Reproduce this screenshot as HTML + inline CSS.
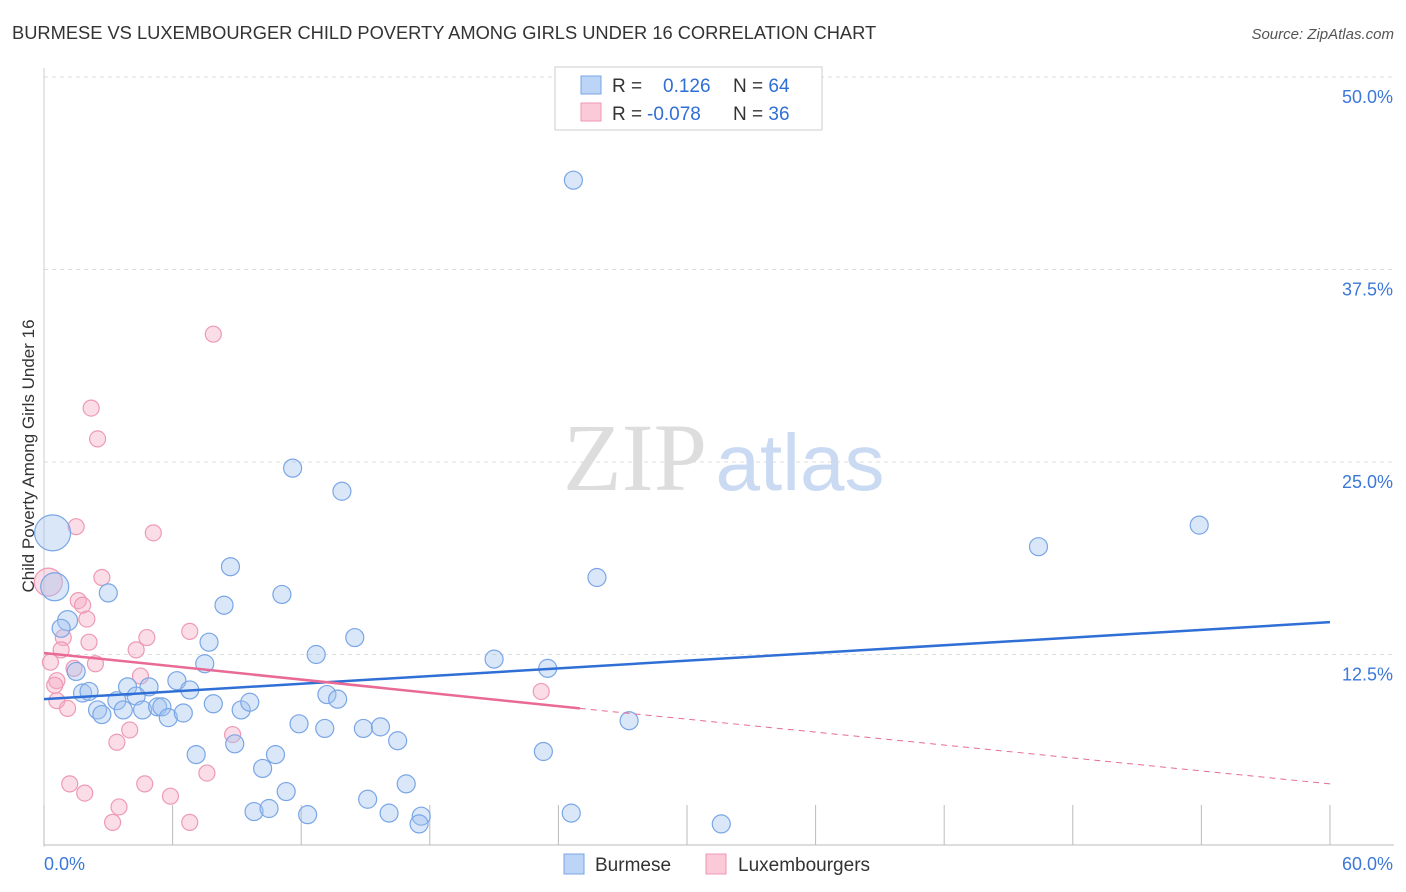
<!DOCTYPE html>
<html><head><meta charset="utf-8"><style>
body{margin:0;background:#fff;font-family:"Liberation Sans",sans-serif;}
svg{display:block}
</style></head><body>
<svg id="chart" width="1406" height="892">
<text x="12" y="39" font-size="18.3" fill="#333">BURMESE VS LUXEMBOURGER CHILD POVERTY AMONG GIRLS UNDER 16 CORRELATION CHART</text>
<text x="1394" y="39" font-size="15" fill="#555" font-style="italic" text-anchor="end">Source: ZipAtlas.com</text>
<text x="34" y="456" font-size="17" fill="#333" text-anchor="middle" transform="rotate(-90 34 456)">Child Poverty Among Girls Under 16</text>
<g id="grid"></g>
<g><text x="635" y="490" font-size="96" fill="#ddd" font-family="Liberation Serif,serif" text-anchor="middle">ZIP</text><text x="800" y="490" font-size="80" fill="#c9daf2" text-anchor="middle">atlas</text></g>
<g id="pts"></g>
<g id="lines"></g>
<g>
<rect x="555" y="67" width="267" height="63" fill="#fff" stroke="#ccc"/>
<rect x="581" y="76" width="20" height="18" fill="#bcd4f5" stroke="#7aa6e6"/>
<rect x="581" y="103" width="20" height="18" fill="#fbcad8" stroke="#ef97b2"/>
<text x="612" y="92" font-size="19" fill="#333">R = <tspan fill="#2f6fd6" x="663">0.126</tspan><tspan x="733" fill="#333">N = </tspan><tspan fill="#2f6fd6">64</tspan></text>
<text x="612" y="120" font-size="19" fill="#333">R = <tspan fill="#2f6fd6" x="647">-0.078</tspan><tspan x="733" fill="#333">N = </tspan><tspan fill="#2f6fd6">36</tspan></text>
</g>
<g>
<rect x="564" y="854" width="20" height="20" fill="#bcd4f5" stroke="#7aa6e6"/>
<text x="595" y="871" font-size="19" fill="#333">Burmese</text>
<rect x="706" y="854" width="20" height="20" fill="#fbcad8" stroke="#ef97b2"/>
<text x="738" y="871" font-size="19" fill="#333">Luxembourgers</text>
</g>
</svg>
<script>
const yTicks=[12.5,25,37.5,50];
const yTickLabels=["12.5%","25.0%","37.5%","50.0%"];
const blueX=[24.7,11.6,13.9,53.9,46.4,25.8,8.7,3.0,11.1,8.4,1.1,0.8,7.7,14.5,12.7,21.0,23.5,7.5,1.5,1.8,2.1,3.9,4.9,6.2,6.8,4.3,3.4,2.5,2.7,3.7,4.6,5.3,5.5,5.8,6.5,7.9,9.2,9.6,13.2,13.7,11.9,13.1,14.9,15.7,16.5,27.3,8.9,7.1,10.8,23.3,10.2,16.9,11.3,15.1,9.8,10.5,12.3,16.1,17.6,17.5,24.6,31.6,0.4,0.5];
const blueY=[43.3,24.6,23.1,20.9,19.5,17.5,18.2,16.5,16.4,15.7,14.7,14.2,13.3,13.6,12.5,12.2,11.6,11.9,11.4,10.0,10.1,10.4,10.4,10.8,10.2,9.8,9.5,8.9,8.6,8.9,8.9,9.1,9.1,8.4,8.7,9.3,8.9,9.4,9.9,9.6,8.0,7.7,7.7,7.8,6.9,8.2,6.7,6.0,6.0,6.2,5.1,4.1,3.6,3.1,2.3,2.5,2.1,2.2,2.0,1.5,2.2,1.5,20.4,16.9];
const blueR=[9,9,9,9,9,9,9,9,9,9,10,9,9,9,9,9,9,9,9,9,9,9,9,9,9,9,9,9,9,9,9,9,9,9,9,9,9,9,9,9,9,9,9,9,9,9,9,9,9,9,9,9,9,9,9,9,9,9,9,9,9,9,18,14];
const pinkX=[7.9,2.2,2.5,1.5,5.1,0.2,2.7,1.6,1.8,2.0,4.8,2.1,0.9,0.8,4.3,2.4,0.3,1.4,4.5,0.6,0.5,6.8,0.6,1.1,4.0,3.4,8.8,7.6,1.2,1.9,4.7,5.9,3.5,3.2,6.8,23.2];
const pinkY=[33.3,28.5,26.5,20.8,20.4,17.2,17.5,16.0,15.7,14.8,13.6,13.3,13.6,12.8,12.8,11.9,12.0,11.6,11.1,10.8,10.5,14.0,9.5,9.0,7.6,6.8,7.3,4.8,4.1,3.5,4.1,3.3,2.6,1.6,1.6,10.1];
const pinkR=[8,8,8,8,8,14,8,8,8,8,8,8,8,8,8,8,8,8,8,8,8,8,8,8,8,8,8,8,8,8,8,8,8,8,8,8];
const blueTrend=[0,9.6,60,14.6];
const pinkTrend=[0,12.6,25,9.0,60,4.1];
const NS="http://www.w3.org/2000/svg";
const X=v=>44+v*21.433, Y=v=>847-v*15.4;
function mk(t,a,p){const e=document.createElementNS(NS,t);for(const k in a)e.setAttribute(k,a[k]);p.appendChild(e);return e;}
const g=document.getElementById('grid');
yTicks.forEach((t,i)=>{const l=mk('line',{x1:44,x2:1394,y1:Y(t),y2:Y(t),stroke:'#ddd','stroke-dasharray':'4 4'},g);


const tx=mk('text',{x:1393,y:Y(t)+26,'font-size':18,fill:'#3b78d8','text-anchor':'end'},g);tx.textContent=yTickLabels[i];

});
mk('line',{x1:44,x2:44,y1:68,y2:847,stroke:'#ccc'},g);
mk('line',{x1:44,x2:1394,y1:845,y2:845,stroke:'#bbb'},g);
for(let i=0;i<=10;i++){const t=mk('line',{x1:X(i*6),x2:X(i*6),y1:805,y2:845,stroke:'#bbb'},g);

}
const x0=mk('text',{x:44,y:870,'font-size':18,fill:'#3b78d8'},g);x0.textContent='0.0%';


const x1=mk('text',{x:1393,y:870,'font-size':18,fill:'#3b78d8','text-anchor':'end'},g);x1.textContent='60.0%';


const P=document.getElementById('pts');
pinkX.forEach((v,i)=>{const c=mk('circle',{cx:X(v),cy:Y(pinkY[i]),r:pinkR[i],fill:'rgba(246,170,195,0.4)',stroke:'#ee9ab5','stroke-width':1.2},P);

});
blueX.forEach((v,i)=>{const c=mk('circle',{cx:X(v),cy:Y(blueY[i]),r:blueR[i],fill:'rgba(160,195,240,0.4)',stroke:'#7aa6e6','stroke-width':1.2},P);

});
const L=document.getElementById('lines');
const b=mk('line',{x1:X(blueTrend[0]),y1:Y(blueTrend[1]),x2:X(blueTrend[2]),y2:Y(blueTrend[3]),stroke:'#2f6fd6','stroke-width':2.5},L);


const p1=mk('line',{x1:X(pinkTrend[0]),y1:Y(pinkTrend[1]),x2:X(pinkTrend[2]),y2:Y(pinkTrend[3]),stroke:'#e86a95','stroke-width':2.5},L);


const p2=mk('line',{x1:X(pinkTrend[2]),y1:Y(pinkTrend[3]),x2:X(pinkTrend[4]),y2:Y(pinkTrend[5]),stroke:'#e86a95','stroke-width':1,'stroke-dasharray':'6 5'},L);


</script>
</body></html>
